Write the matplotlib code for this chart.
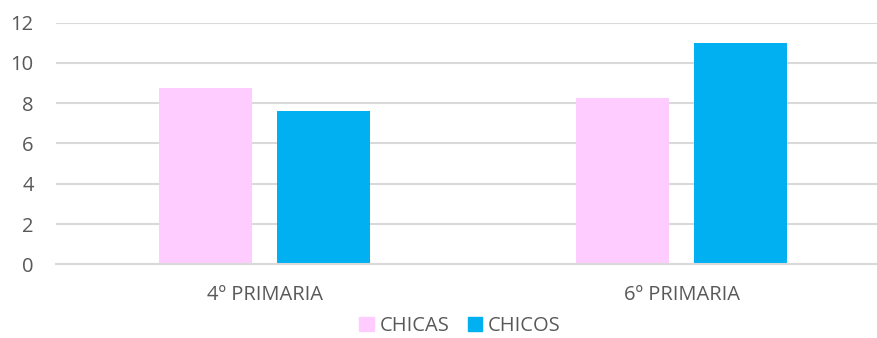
import numpy as np
import matplotlib
matplotlib.use('Agg')
import matplotlib.pyplot as plt
from matplotlib.patches import Patch

# data
categories = ['4º PRIMARIA', '6º PRIMARIA']
chicas = [8.73, 8.25]
chicos = [7.62, 11.0]
series_names = ['CHICAS', 'CHICOS']

pink = '#FFCCFF'
blue = '#00B0F0'
grid_col = '#D9D9D9'
text_col = '#595959'

plt.rcParams['font.family'] = ['Open Sans', 'DejaVu Sans']

fig = plt.figure(figsize=(8.78, 3.38), dpi=100)
ax = fig.add_axes([55.9 / 878, 73.7 / 338, 834.6 / 878, 241.8 / 338])

x = np.arange(len(categories))
w = 0.223
off = 0.1415
ax.bar(x - off, chicas, w, color=pink, zorder=3)
ax.bar(x + off, chicos, w, color=blue, zorder=3)

ax.set_xlim(-0.5, 1.5)
ax.set_ylim(0, 12)
ax.set_yticks(np.arange(0, 13, 2))
ax.set_xticks(x)
ax.set_xticklabels(categories)

ax.grid(axis='y', color=grid_col, linewidth=1.5, zorder=0)
for s in ['top', 'right', 'left']:
    ax.spines[s].set_visible(False)
ax.spines['bottom'].set_color(grid_col)
ax.spines['bottom'].set_linewidth(1.5)
ax.spines['bottom'].set_zorder(4)

ax.tick_params(axis='y', length=0, pad=16, labelsize=14.5, labelcolor=text_col)
ax.tick_params(axis='x', length=0, pad=15, labelsize=14.5, labelcolor=text_col)

handles = [Patch(color=pink), Patch(color=blue)]
fig.legend(handles, series_names, loc='center', bbox_to_anchor=(460 / 878, 1 - 326 / 338),
           ncol=2, frameon=False, fontsize=14.5, labelcolor=text_col,
           handlelength=0.7, handleheight=0.7, handletextpad=0.3, columnspacing=0.9)

fig.savefig('out.png', dpi=100)
